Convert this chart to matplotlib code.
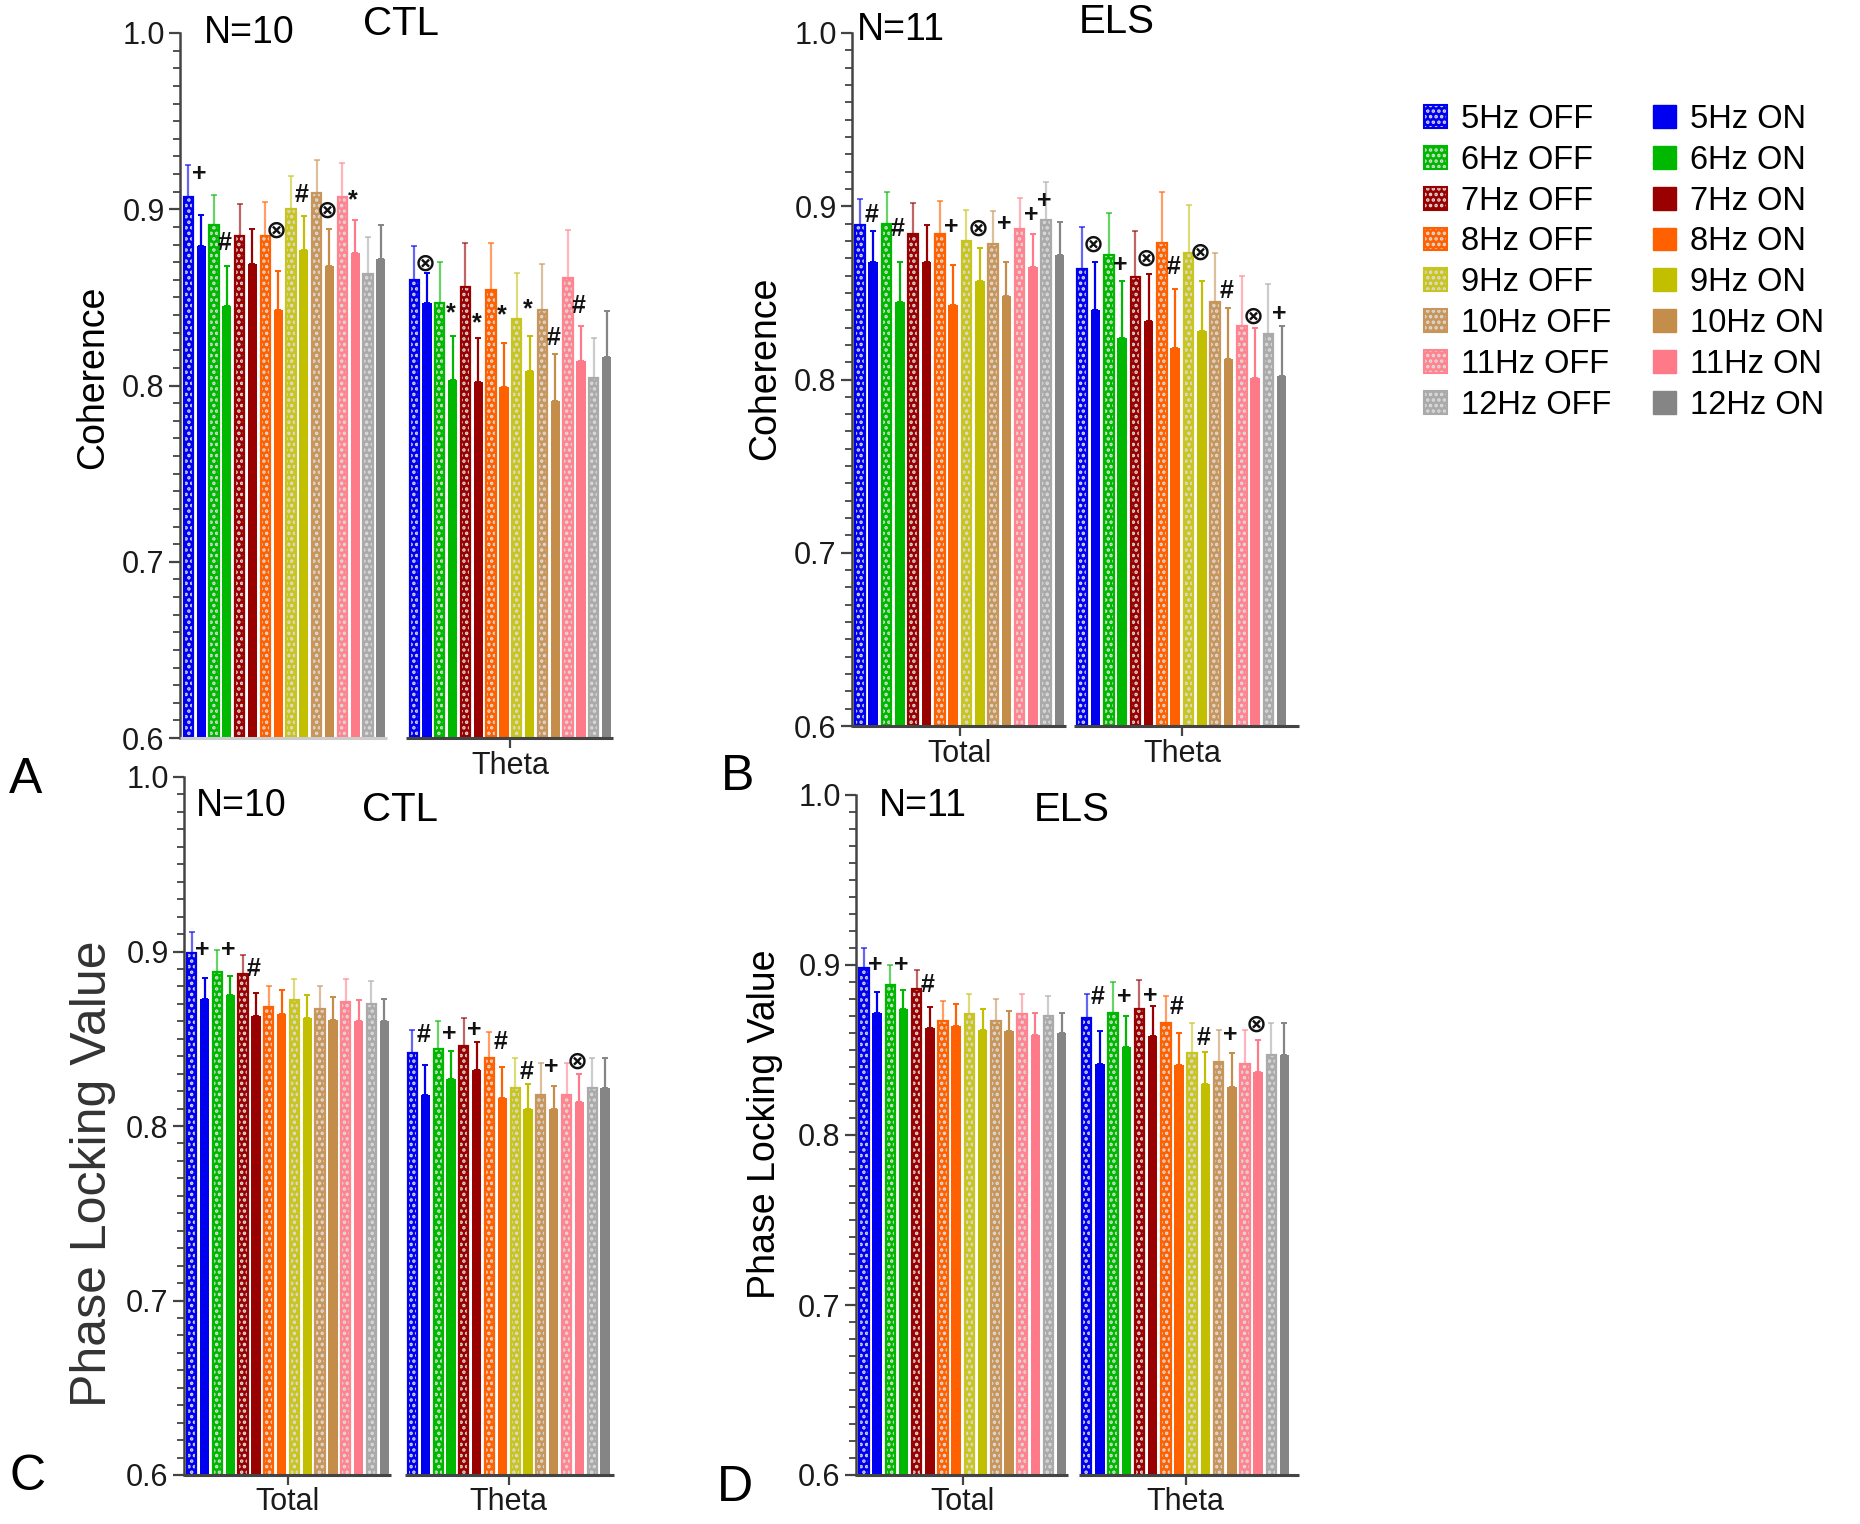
import numpy as np
import matplotlib
matplotlib.use('Agg')
import matplotlib.pyplot as plt
from matplotlib.patches import Patch
from matplotlib.ticker import MultipleLocator

plt.rcParams['font.family'] = ['Liberation Sans', 'DejaVu Sans']
plt.rcParams['hatch.linewidth'] = 1.7

freqs = ['5Hz', '6Hz', '7Hz', '8Hz', '9Hz', '10Hz', '11Hz', '12Hz']
groups = ['Total', 'Theta']
colors = ['#0000F0', '#00B800', '#990000', '#FF6000', '#C2BE00', '#C48E4A', '#FF7A88', '#858585']
off_colors = ['#0000F0', '#00B800', '#990000', '#FF6000', '#C8C420', '#C8955A', '#FF8490', '#AAAAAA']

# bar order in each group: 5Hz OFF, 5Hz ON, 6Hz OFF, 6Hz ON, ... 12Hz OFF, 12Hz ON
# ---- A: Coherence, CTL ----
coh_ctl_total = [0.907, 0.879, 0.891, 0.845, 0.885, 0.869, 0.885, 0.843,
                 0.900, 0.877, 0.909, 0.868, 0.907, 0.875, 0.863, 0.872]
coh_ctl_total_sem = [0.018, 0.018, 0.017, 0.023, 0.018, 0.020, 0.019, 0.022,
                     0.019, 0.019, 0.019, 0.021, 0.019, 0.019, 0.021, 0.019]
coh_ctl_theta = [0.860, 0.847, 0.847, 0.803, 0.856, 0.802, 0.854, 0.799,
                 0.838, 0.808, 0.843, 0.791, 0.861, 0.814, 0.804, 0.816]
coh_ctl_theta_sem = [0.019, 0.017, 0.023, 0.025, 0.025, 0.025, 0.027, 0.025,
                     0.026, 0.020, 0.026, 0.027, 0.027, 0.020, 0.023, 0.026]
# ---- B: Coherence, ELS ----
coh_els_total = [0.889, 0.868, 0.890, 0.845, 0.884, 0.868, 0.884, 0.843,
                 0.880, 0.857, 0.878, 0.848, 0.887, 0.865, 0.892, 0.872]
coh_els_total_sem = [0.015, 0.018, 0.018, 0.023, 0.018, 0.021, 0.019, 0.023,
                     0.018, 0.019, 0.019, 0.020, 0.018, 0.019, 0.022, 0.019]
coh_els_theta = [0.864, 0.840, 0.872, 0.824, 0.859, 0.834, 0.879, 0.818,
                 0.873, 0.828, 0.845, 0.812, 0.831, 0.801, 0.826, 0.802]
coh_els_theta_sem = [0.024, 0.028, 0.024, 0.033, 0.027, 0.027, 0.029, 0.034,
                     0.028, 0.029, 0.028, 0.029, 0.029, 0.029, 0.029, 0.029]
# ---- C: PLV, CTL ----
plv_ctl_total = [0.899, 0.873, 0.888, 0.875, 0.887, 0.863, 0.868, 0.864,
                 0.872, 0.862, 0.867, 0.861, 0.871, 0.860, 0.870, 0.860]
plv_ctl_total_sem = [0.012, 0.012, 0.013, 0.011, 0.011, 0.013, 0.012, 0.014,
                     0.012, 0.013, 0.013, 0.013, 0.013, 0.012, 0.013, 0.013]
plv_ctl_theta = [0.842, 0.818, 0.844, 0.827, 0.846, 0.832, 0.839, 0.816,
                 0.822, 0.810, 0.818, 0.810, 0.818, 0.814, 0.822, 0.822]
plv_ctl_theta_sem = [0.013, 0.017, 0.016, 0.016, 0.016, 0.016, 0.015, 0.018,
                     0.017, 0.014, 0.018, 0.013, 0.018, 0.016, 0.017, 0.017]
# ---- D: PLV, ELS ----
plv_els_total = [0.898, 0.872, 0.888, 0.874, 0.886, 0.863, 0.867, 0.864,
                 0.871, 0.862, 0.867, 0.861, 0.871, 0.859, 0.870, 0.860]
plv_els_total_sem = [0.012, 0.012, 0.012, 0.011, 0.011, 0.012, 0.012, 0.013,
                     0.012, 0.012, 0.013, 0.012, 0.012, 0.013, 0.012, 0.012]
plv_els_theta = [0.869, 0.842, 0.872, 0.852, 0.874, 0.858, 0.866, 0.841,
                 0.848, 0.830, 0.843, 0.828, 0.842, 0.837, 0.847, 0.847]
plv_els_theta_sem = [0.014, 0.019, 0.018, 0.018, 0.017, 0.018, 0.016, 0.019,
                     0.018, 0.019, 0.019, 0.020, 0.020, 0.019, 0.019, 0.019]

# significance marks: (group, bar index, symbol, height)
marks_a = [(0, 1, '+', 0.920), (0, 3, '#', 0.881), (0, 7, '⊗', 0.888), (0, 9, '#', 0.908),
           (0, 11, '⊗', 0.899), (0, 13, '*', 0.905),
           (1, 1, '⊗', 0.869), (1, 3, '*', 0.841), (1, 5, '*', 0.835), (1, 7, '*', 0.840),
           (1, 9, '*', 0.843), (1, 11, '#', 0.827), (1, 13, '#', 0.845)]
marks_b = [(0, 1, '#', 0.895), (0, 3, '#', 0.887), (0, 7, '+', 0.888), (0, 9, '⊗', 0.887),
           (0, 11, '+', 0.890), (0, 13, '+', 0.895), (0, 14, '+', 0.903),
           (1, 1, '⊗', 0.878), (1, 3, '+', 0.866), (1, 5, '⊗', 0.870), (1, 7, '#', 0.865),
           (1, 9, '⊗', 0.873), (1, 11, '#', 0.851), (1, 13, '⊗', 0.836), (1, 15, '+', 0.838)]
marks_c = [(0, 1, '+', 0.901), (0, 3, '+', 0.901), (0, 5, '#', 0.890),
           (1, 1, '#', 0.852), (1, 3, '+', 0.853), (1, 5, '+', 0.855), (1, 7, '#', 0.848),
           (1, 9, '#', 0.831), (1, 11, '+', 0.834), (1, 13, '⊗', 0.837)]
marks_d = [(0, 1, '+', 0.900), (0, 3, '+', 0.900), (0, 5, '#', 0.888),
           (1, 1, '#', 0.881), (1, 3, '+', 0.881), (1, 5, '+', 0.882), (1, 7, '#', 0.875),
           (1, 9, '#', 0.857), (1, 11, '+', 0.859), (1, 13, '⊗', 0.865)]

W, H = 1860, 1524
fig = plt.figure(figsize=(W / 100, H / 100), dpi=100)


def fx(x):
    return x / W


def fy(y):
    return 1 - y / H


HATCH_COL = '#dcdcdc'
HATCH = '...'
BW = 0.72


def draw_panel(rect, data, marks, gap, xlim, ticked, faint_first=False):
    ax = fig.add_axes(rect)
    ax.patch.set_visible(False)
    for g, (means, sems) in enumerate(data):
        off = g * gap
        for k in range(16):
            fi, is_on = k // 2, k % 2
            x = off + k
            if is_on:
                c = colors[fi]
                ax.bar(x, means[k], BW, color=c, linewidth=0, zorder=2)
                ax.errorbar(x, means[k], yerr=[[0], [sems[k]]], fmt='none', ecolor=c,
                            elinewidth=1.6, capsize=2.5, capthick=1.4, zorder=3)
            else:
                c = off_colors[fi]
                ax.bar(x, means[k], BW, color=c, edgecolor=HATCH_COL, hatch=HATCH,
                       linewidth=0, zorder=2)
                ax.bar(x, means[k], BW, fill=False, edgecolor=c, linewidth=1.6, zorder=2)
                ax.errorbar(x, means[k], yerr=[[0], [sems[k]]], fmt='none', ecolor=c,
                            alpha=0.6, elinewidth=1.6, capsize=2.5, capthick=1.4, zorder=3)
        # axis line under each group
        lc = '#cccccc' if (faint_first and g == 0) else '#444444'
        x0 = xlim[0] if g == 0 else off - 0.6
        x1 = off + 15.5 if g == 0 else xlim[1]
        ax.hlines(0.6, x0, x1, color=lc, linewidth=2.2, clip_on=False, zorder=4)
    for g, k, sym, yv in marks:
        ax.text(g * gap + k - 0.15, yv, sym, ha='center', va='center',
                fontsize=18, fontweight='bold', color='#111111', zorder=5)
    ax.set_xlim(*xlim)
    ax.set_ylim(0.6, 1.0)
    for s in ['top', 'right', 'bottom']:
        ax.spines[s].set_visible(False)
    ax.spines['left'].set_color('#444444')
    ax.spines['left'].set_linewidth(1.8)
    ax.set_yticks([0.6, 0.7, 0.8, 0.9, 1.0])
    ax.set_yticklabels(['0.6', '0.7', '0.8', '0.9', '1.0'])
    ax.yaxis.set_minor_locator(MultipleLocator(0.01))
    ax.tick_params(axis='y', which='major', length=8, width=1.6, color='#444444',
                   labelsize=22, labelcolor='#1a1a1a', pad=3)
    ax.tick_params(axis='y', which='minor', length=5, width=1.3, color='#444444')
    centers = [g * gap + 7.5 for g in range(2)]
    ax.set_xticks([centers[g] for g in ticked])
    ax.set_xticklabels([groups[g] for g in ticked])
    ax.tick_params(axis='x', length=7, width=1.6, color='#444444', labelsize=22,
                   labelcolor='#1a1a1a', pad=2)
    return ax


# panel A
draw_panel([fx(180), fy(738), fx(613 - 180), (738 - 33) / H],
           [(coh_ctl_total, coh_ctl_total_sem), (coh_ctl_theta, coh_ctl_theta_sem)],
           marks_a, 17.6, (-0.65, 33.1), [1], faint_first=True)
# panel B
draw_panel([fx(852), fy(726), fx(1299 - 852), (726 - 33) / H],
           [(coh_els_total, coh_els_total_sem), (coh_els_theta, coh_els_theta_sem)],
           marks_b, 16.7, (-0.6, 33.0), [0, 1])
# panel C
draw_panel([fx(184), fy(1475), fx(614 - 184), (1475 - 777) / H],
           [(plv_ctl_total, plv_ctl_total_sem), (plv_ctl_theta, plv_ctl_theta_sem)],
           marks_c, 17.2, (-0.6, 32.9), [0, 1])
# panel D
draw_panel([fx(856), fy(1475), fx(1299 - 856), (1475 - 795) / H],
           [(plv_els_total, plv_els_total_sem), (plv_els_theta, plv_els_theta_sem)],
           marks_d, 16.9, (-0.6, 33.0), [0, 1])

# titles, group sizes, axis labels, panel letters
fig.text(fx(249), fy(33), 'N=10', fontsize=27, ha='center', va='center')
fig.text(fx(401), fy(24), 'CTL', fontsize=29, ha='center', va='center')
fig.text(fx(901), fy(30), 'N=11', fontsize=27, ha='center', va='center')
fig.text(fx(1117), fy(22), 'ELS', fontsize=29, ha='center', va='center')
fig.text(fx(241), fy(806), 'N=10', fontsize=27, ha='center', va='center')
fig.text(fx(400), fy(810), 'CTL', fontsize=29, ha='center', va='center')
fig.text(fx(923), fy(806), 'N=11', fontsize=27, ha='center', va='center')
fig.text(fx(1072), fy(810), 'ELS', fontsize=29, ha='center', va='center')

fig.text(fx(93), fy(377), 'Coherence', fontsize=27, rotation=90, ha='center', va='center')
fig.text(fx(765), fy(368), 'Coherence', fontsize=27, rotation=90, ha='center', va='center')
fig.text(fx(93), fy(1174), 'Phase Locking Value', fontsize=36, rotation=90,
         ha='center', va='center', color='#333333')
fig.text(fx(765), fy(1124), 'Phase Locking Value', fontsize=27, rotation=90,
         ha='center', va='center')

for letter, (px_, py_) in zip('ABCD', [(26, 780), (738, 777), (28, 1477), (735, 1488)]):
    fig.text(fx(px_), fy(py_), letter, fontsize=36, ha='center', va='center')

# legend
handles, labels = [], []
for cond in ['OFF', 'ON']:
    for fi, f in enumerate(freqs):
        if cond == 'OFF':
            h = (Patch(facecolor=off_colors[fi], edgecolor=HATCH_COL, hatch=HATCH, linewidth=0),
                 Patch(facecolor='none', edgecolor=off_colors[fi], linewidth=1.5))
        else:
            h = Patch(facecolor=colors[fi], edgecolor=colors[fi], linewidth=1)
        handles.append(h)
        labels.append(f'{f} {cond}')
fig.legend(handles, labels, ncol=2, loc='upper left', bbox_to_anchor=(fx(1424), fy(104)),
           frameon=False, fontsize=23.5, handlelength=0.7, handleheight=0.7,
           labelspacing=0.3, columnspacing=1.3, handletextpad=0.42, borderpad=0,
           borderaxespad=0)

fig.savefig('out.png', dpi=100)
